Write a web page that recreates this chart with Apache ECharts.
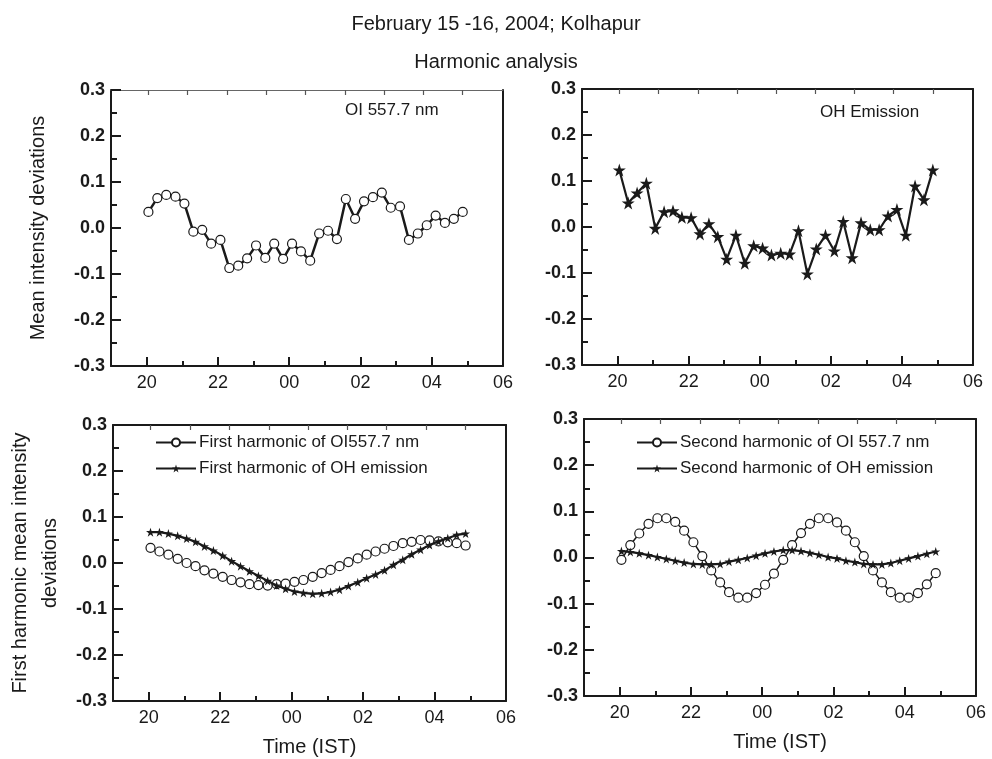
<!DOCTYPE html>
<html>
<head>
<meta charset="utf-8">
<script src="https://cdn.jsdelivr.net/npm/echarts@6/dist/echarts.min.js"></script>
<style>
html,body{margin:0;padding:0;background:#fff;}
#chart{width:992px;height:759px;}
</style>
</head>
<body>
<div id="chart"></div>
<script>
// ---- data ----
const times = [20.05,20.30,20.55,20.81,21.06,21.31,21.56,21.81,22.07,22.32,22.57,22.82,23.07,23.33,23.58,23.83,24.08,24.33,24.59,24.84,25.09,25.34,25.59,25.85,26.10,26.35,26.60,26.85,27.11,27.36,27.61,27.86,28.11,28.37,28.62,28.87];
const oiValues = [0.035,0.065,0.072,0.068,0.053,-0.008,-0.004,-0.034,-0.026,-0.087,-0.082,-0.066,-0.038,-0.065,-0.034,-0.067,-0.034,-0.051,-0.071,-0.012,-0.006,-0.024,0.063,0.020,0.058,0.067,0.077,0.044,0.047,-0.026,-0.012,0.006,0.027,0.011,0.020,0.035];
const ohValues = [0.124,0.052,0.074,0.095,-0.003,0.033,0.035,0.021,0.020,-0.015,0.007,-0.021,-0.070,-0.018,-0.079,-0.041,-0.046,-0.061,-0.057,-0.059,-0.008,-0.102,-0.048,-0.018,-0.052,0.012,-0.067,0.009,-0.006,-0.006,0.024,0.038,-0.018,0.089,0.059,0.124];
const oiFirst = [0.033,0.025,0.018,0.009,0.000,-0.007,-0.016,-0.023,-0.030,-0.037,-0.042,-0.046,-0.048,-0.049,-0.046,-0.045,-0.041,-0.037,-0.030,-0.022,-0.015,-0.007,0.002,0.010,0.018,0.025,0.031,0.037,0.043,0.046,0.050,0.049,0.047,0.045,0.043,0.038];
const ohFirst = [0.067,0.067,0.064,0.059,0.053,0.046,0.036,0.027,0.016,0.004,-0.007,-0.018,-0.028,-0.039,-0.049,-0.056,-0.062,-0.065,-0.067,-0.066,-0.063,-0.058,-0.050,-0.042,-0.033,-0.025,-0.016,-0.004,0.007,0.019,0.029,0.039,0.047,0.054,0.061,0.064];
const oiSecond = [-0.005,0.027,0.052,0.073,0.085,0.085,0.077,0.058,0.033,0.003,-0.028,-0.054,-0.075,-0.087,-0.087,-0.077,-0.059,-0.035,-0.005,0.027,0.053,0.073,0.085,0.085,0.076,0.058,0.033,0.003,-0.028,-0.054,-0.075,-0.087,-0.087,-0.077,-0.058,-0.034];
const ohSecond = [0.014,0.012,0.009,0.005,0.001,-0.003,-0.007,-0.011,-0.014,-0.015,-0.015,-0.014,-0.009,-0.005,-0.001,0.004,0.009,0.013,0.016,0.016,0.014,0.010,0.006,0.001,-0.002,-0.007,-0.010,-0.014,-0.015,-0.015,-0.012,-0.007,-0.002,0.003,0.008,0.013];
const majorHours = [20,22,24,26,28,30];
const minorHours = [21,23,25,27,29];
const topTicks = [20.05,21.15,22.26,23.36,24.46,25.56,26.66,27.77,28.87];
const titleLines = ['February 15 -16, 2004; Kolhapur','Harmonic analysis'];
const panelNotes = ['OI 557.7 nm','OH Emission'];
const legendNames = ['First harmonic of OI557.7 nm','First harmonic of OH emission','Second harmonic of OI 557.7 nm','Second harmonic of OH emission'];
const yTitles = ['Mean intensity deviations','First harmonic mean intensity\ndeviations'];
const xTitle = 'Time (IST)';

// ---- layout ----
const FONT = '"Liberation Sans", Arial, Helvetica, sans-serif';
const INK = '#1a1a1a';
const STAR = 'path://M50,0 L61.2,34.5 L97.6,34.5 L68.2,55.9 L79.4,90.5 L50,69.1 L20.6,90.5 L31.8,55.9 L2.4,34.5 L38.8,34.5 Z';
const grids = [
  {left:111, top:90, width:392, height:276},
  {left:582, top:89, width:391, height:276},
  {left:113, top:425, width:393, height:276},
  {left:584, top:419, width:392, height:277}
];
const fmtHour = v => { const h = Math.round(v) % 24; return (h < 10 ? '0' : '') + h; };

const xAxes = [], yAxes = [];
grids.forEach((g, p) => {
  const bottomPanel = p >= 2;
  xAxes.push({
    gridIndex:p, type:'value', min:19, max:30, position:'bottom',
    axisLine:{show:true, onZero:false, lineStyle:{color:INK, width:2}},
    axisTick:{show:true, inside:true, length:9, customValues:majorHours, lineStyle:{color:INK, width:2}},
    axisLabel:{show:true, customValues:majorHours, formatter:fmtHour, margin:8, fontSize:18, color:INK, fontFamily:FONT},
    splitLine:{show:false},
    name: bottomPanel ? xTitle : '', nameLocation:'middle', nameGap:36,
    nameTextStyle:{fontSize:20, color:INK, fontFamily:FONT}
  });
  xAxes.push({
    gridIndex:p, type:'value', min:19, max:30, position:'bottom',
    axisLine:{show:false, onZero:false},
    axisTick:{show:true, inside:true, length:5, customValues:minorHours, lineStyle:{color:INK, width:2}},
    axisLabel:{show:false}, splitLine:{show:false}
  });
  xAxes.push({
    gridIndex:p, type:'value', min:19, max:30, position:'top',
    axisLine:{show:true, onZero:false, lineStyle:{color: p === 0 ? '#666' : INK, width: p === 0 ? 1 : 2}},
    axisTick:{show:true, inside:true, length:5, customValues:topTicks, lineStyle:{color:'#555', width:1.2}},
    axisLabel:{show:false}, splitLine:{show:false}
  });
  const yt = (p === 0) ? yTitles[0] : (p === 2 ? yTitles[1] : '');
  yAxes.push({
    gridIndex:p, type:'value', min:-0.3, max:0.3, interval:0.1, position:'left',
    axisLine:{show:true, onZero:false, lineStyle:{color:INK, width:2}},
    axisTick:{show:true, inside:true, length:10, lineStyle:{color:INK, width:2}},
    minorTick:{show:true, splitNumber:2, length:6, lineStyle:{color:INK, width:2}},
    axisLabel:{fontSize:18, fontWeight:'bold', color:INK, fontFamily:FONT, margin:6,
      formatter: v => (Math.abs(v) < 1e-9 ? 0 : v).toFixed(1)},
    splitLine:{show:false}, minorSplitLine:{show:false},
    name: yt, nameLocation:'middle', nameRotate:90, nameGap: p === 0 ? 58 : 48,
    nameTextStyle:{fontSize:20, color:INK, fontFamily:FONT, lineHeight:30, align:'center'}
  });
  yAxes.push({
    gridIndex:p, type:'value', min:-0.3, max:0.3, position:'right',
    axisLine:{show:true, onZero:false, lineStyle:{color:INK, width:2}},
    axisTick:{show:false}, axisLabel:{show:false}, splitLine:{show:false}
  });
});

const pts = vals => times.map((t, i) => [t, vals[i]]);
const circleSeries = (name, vals, p, lw, size) => ({
  name, type:'line', xAxisIndex:3*p, yAxisIndex:2*p, data:pts(vals),
  symbol:'circle', symbolSize:size, showSymbol:true,
  lineStyle:{color:INK, width:lw},
  itemStyle:{color:'#fff', borderColor:INK, borderWidth:1.2},
  z:3
});
const starSeries = (name, vals, p, lw, size) => ({
  name, type:'line', xAxisIndex:3*p, yAxisIndex:2*p, data:pts(vals),
  symbol:STAR, symbolSize:size, showSymbol:true,
  lineStyle:{color:INK, width:lw},
  itemStyle:{color:INK, borderWidth:0},
  z:4
});

const option = {
  animation:false,
  backgroundColor:'#fff',
  textStyle:{fontFamily:FONT},
  title:[
    {text:titleLines[0], left:'center', top:9, textStyle:{fontSize:20, fontWeight:'normal', color:INK, fontFamily:FONT}},
    {text:titleLines[1], left:'center', top:47, textStyle:{fontSize:20, fontWeight:'normal', color:INK, fontFamily:FONT}},
    {text:panelNotes[0], left:340, top:97, textStyle:{fontSize:17, fontWeight:'normal', color:INK, fontFamily:FONT}},
    {text:panelNotes[1], left:815, top:99, textStyle:{fontSize:17, fontWeight:'normal', color:INK, fontFamily:FONT}}
  ],
  legend:[
    {data:[legendNames[0], legendNames[1]], orient:'vertical', left:150, top:429, itemWidth:40, itemHeight:10, itemGap:9,
     textStyle:{fontSize:17, color:INK, fontFamily:FONT, padding:[0,0,0,-2]}},
    {data:[legendNames[2], legendNames[3]], orient:'vertical', left:631, top:429, itemWidth:40, itemHeight:10, itemGap:9,
     textStyle:{fontSize:17, color:INK, fontFamily:FONT, padding:[0,0,0,-2]}}
  ],
  grid: grids.map(g => Object.assign({containLabel:false}, g)),
  xAxis:xAxes,
  yAxis:yAxes,
  series:[
    circleSeries('OI', oiValues, 0, 2.5, 9),
    starSeries('OH', ohValues, 1, 2.2, 13),
    circleSeries(legendNames[0], oiFirst, 2, 1.5, 9),
    starSeries(legendNames[1], ohFirst, 2, 2.2, 9),
    circleSeries(legendNames[2], oiSecond, 3, 1.5, 9),
    starSeries(legendNames[3], ohSecond, 3, 2.2, 9)
  ]
};
const chart = echarts.init(document.getElementById('chart'), null, {renderer:'canvas'});
chart.setOption(option);
</script>
</body>
</html>
